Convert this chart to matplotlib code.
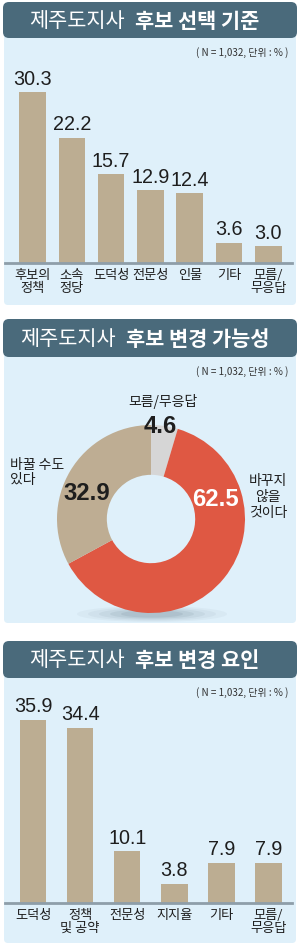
import matplotlib
matplotlib.use("Agg")
import matplotlib.pyplot as plt
from matplotlib.patches import FancyBboxPatch, Ellipse
from matplotlib import font_manager as fm

# ---------------- data ----------------
title1_reg, title1_bold = "제주도지사", "후보 선택 기준"
cats1 = ["후보의\n정책", "소속\n정당", "도덕성", "전문성", "인물", "기타", "모름/\n무응답"]
vals1 = [30.3, 22.2, 15.7, 12.9, 12.4, 3.6, 3.0]

title2_reg, title2_bold = "제주도지사", "후보 변경 가능성"
pie_labels = ["모름/무응답", "바꾸지\n않을\n것이다", "바꿀 수도\n있다"]
pie_vals = [4.6, 62.5, 32.9]

title3_reg, title3_bold = "제주도지사", "후보 변경 요인"
cats3 = ["도덕성", "정책\n및 공약", "전문성", "지지율", "기타", "모름/\n무응답"]
vals3 = [35.9, 34.4, 10.1, 3.8, 7.9, 7.9]

note = "( N = 1,032, 단위 : % )"

# ---------------- style ----------------
KR = ["Noto Sans CJK KR", "DejaVu Sans"]
names = {f.name for f in fm.fontManager.ttflist}
if "Liberation Sans Narrow" in names:
    NUM = ["Liberation Sans Narrow", "DejaVu Sans"]
    nscale = 1.0
else:
    NUM = ["Liberation Sans", "DejaVu Sans"]
    nscale = 0.86

TITLE_BG = "#4a6a7b"
PANEL_BG = "#dff0fa"
BAR_C = "#bcad92"
BASE_C = "#8e9ea9"
RED = "#df5843"
TAN = "#bead93"
GRAY = "#d6d6d6"
TXT = "#1e1e1e"

W, H = 300, 948
fig = plt.figure(figsize=(W / 100, H / 100), dpi=100)
fig.patch.set_facecolor("white")


def frac(x0, y0, x1, y1):
    return [x0 / W, 1 - y1 / H, (x1 - x0) / W, (y1 - y0) / H]


bg = fig.add_axes([0, 0, 1, 1])
bg.set_xlim(0, W)
bg.set_ylim(H, 0)
bg.axis("off")


def panel(ty0, ty1, by1, reg, bold, reg_end, bold_start):
    bg.add_patch(FancyBboxPatch((4, ty1 - 6), 292, by1 - ty1 + 6,
                                boxstyle="round,pad=0,rounding_size=4",
                                fc=PANEL_BG, ec="none", zorder=1))
    bg.add_patch(FancyBboxPatch((3, ty0), 294, ty1 - ty0,
                                boxstyle="round,pad=0,rounding_size=6",
                                fc=TITLE_BG, ec="none", zorder=2))
    yc = (ty0 + ty1) / 2 + 1
    bg.text(reg_end, yc, reg, color="white", fontsize=15, family=KR,
            ha="right", va="center", zorder=3)
    bg.text(bold_start, yc, bold, color="white", fontsize=15, family=KR,
            fontweight="bold", ha="left", va="center", zorder=3)
    bg.text(288, ty1 + 15, note, color="#333333", fontsize=7.1, family=KR,
            ha="right", va="center", zorder=3)


panel(2, 38, 305, title1_reg, title1_bold, 125, 135)
panel(319, 357, 623, title2_reg, title2_bold, 116, 126)
panel(641, 678, 943, title3_reg, title3_bold, 125, 135)

# shadow under donut
for i, a in enumerate([0.05, 0.06, 0.08, 0.10, 0.12]):
    bg.add_patch(Ellipse((152, 614), 150 - i * 22, 16 - i * 2.2,
                         fc="#5a7080", ec="none", alpha=a, zorder=1.5))


def bars(cats, vals, c0, step, base, scale, width_px, top_px):
    x0p, x1p = 5, 292
    ax = fig.add_axes(frac(x0p, top_px, x1p, base))
    ax.set_facecolor("none")
    ax.set_xlim((x0p - c0) / step, (x1p - c0) / step)
    ax.set_ylim(0, (base - top_px) / scale)
    xs = list(range(len(vals)))
    ax.bar(xs, vals, width=width_px / step, color=BAR_C, zorder=2)
    for x, v in zip(xs, vals):
        ax.annotate(f"{v:.1f}", (x, v), xytext=(0, 2.5), textcoords="offset points",
                    ha="center", va="bottom", fontsize=16.5 * nscale,
                    family=NUM, color=TXT)
    for s in ["top", "left", "right"]:
        ax.spines[s].set_visible(False)
    ax.spines["bottom"].set_color(BASE_C)
    ax.spines["bottom"].set_linewidth(2)
    ax.set_yticks([])
    ax.set_xticks(xs)
    ax.set_xticklabels(cats, fontsize=9.5, family=KR, color=TXT, linespacing=1.0)
    ax.tick_params(axis="x", length=0, pad=4.5)
    return ax


bars(cats1, vals1, 32.5, 39.3, 263, 5.64, 26.5, 80)
bars(cats3, vals3, 33.0, 47.1, 903, 5.10, 26.5, 700)

# ---------------- donut ----------------
cx, cy, r = 151, 519, 94
axp = fig.add_axes(frac(cx - r, cy - r, cx + r, cy + r))
axp.set_facecolor("none")
axp.pie(pie_vals, colors=[GRAY, RED, TAN], startangle=90, counterclock=False,
        radius=1.0, wedgeprops=dict(width=0.53, edgecolor="none"))
axp.set_xlim(-1, 1)
axp.set_ylim(-1, 1)
axp.set_aspect("equal")
axp.axis("off")

axp.text(0.13, 1.245, pie_labels[0], fontsize=10, family=KR, color=TXT,
         ha="center", va="center")
axp.text(0.10, 0.98, f"{pie_vals[0]:.1f}", fontsize=20 * nscale, family=NUM,
         fontweight="bold", color=TXT, ha="center", va="center")
axp.text(0.69, 0.21, f"{pie_vals[1]:.1f}", fontsize=20 * nscale, family=NUM,
         fontweight="bold", color="white", ha="center", va="center")
axp.text(-0.68, 0.27, f"{pie_vals[2]:.1f}", fontsize=20 * nscale, family=NUM,
         fontweight="bold", color=TXT, ha="center", va="center")
axp.text(1.245, 0.234, pie_labels[1], fontsize=10, family=KR, color=TXT,
         ha="center", va="center", multialignment="center", linespacing=1.2)
axp.text(-1.5, 0.495, pie_labels[2], fontsize=10, family=KR, color=TXT,
         ha="left", va="center", multialignment="left", linespacing=1.1)

fig.savefig("out.png", dpi=100, facecolor="white")
